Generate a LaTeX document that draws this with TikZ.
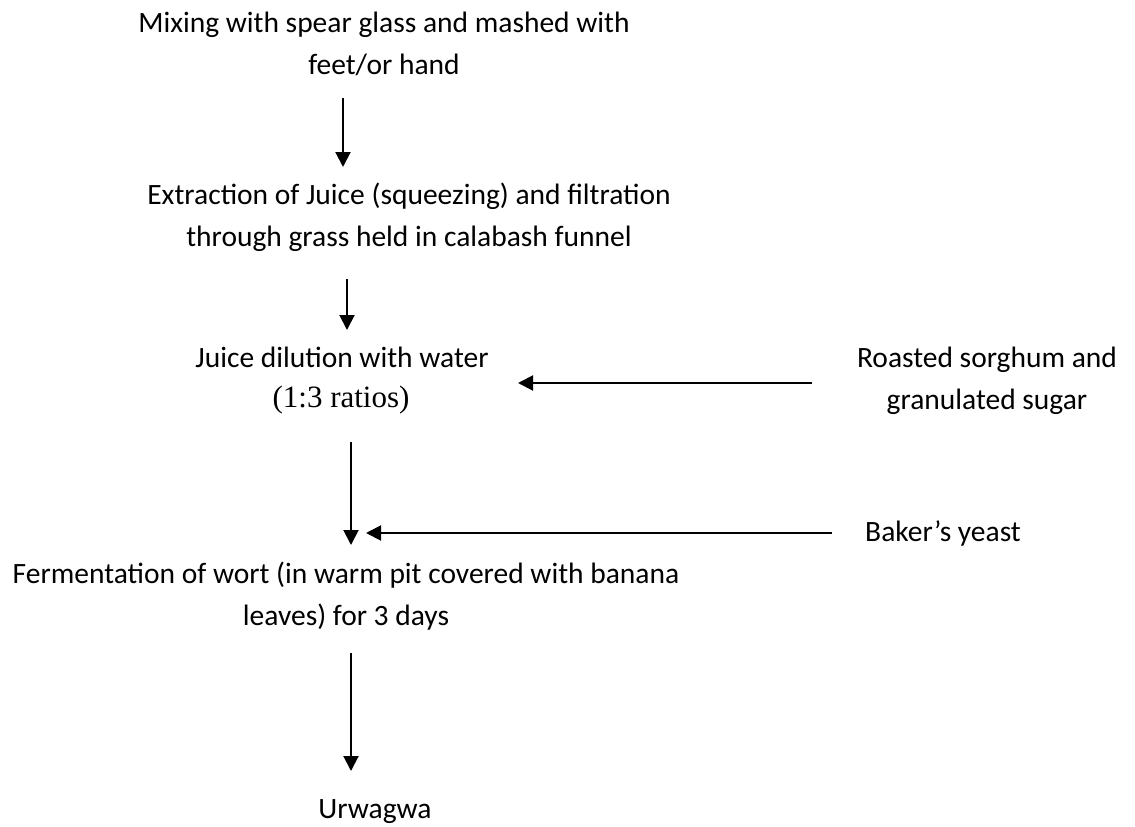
\documentclass[tikz,border=0pt]{standalone}
\usepackage{fontspec}
\setmainfont{Carlito}
\newfontfamily\timesfont{Liberation Serif}
\usetikzlibrary{arrows.meta}
\begin{document}
\begin{tikzpicture}[x=1pt,y=-1pt,
  lbl/.style={inner sep=0pt, align=center, font=\fontsize{29.5}{42}\selectfont},
  arr/.style={-{Triangle[length=15pt,width=15pt]}, line width=2pt}]
\useasboundingbox (0,0) rectangle (1135,827);
\node[lbl] (mix) at (384,44) {Mixing with spear glass and mashed with\\feet/or hand};
\coordinate (a1s) at (343,98);
\coordinate (a1e) at (343,167);
\node[lbl] (ext) at (409,217) {Extraction of Juice (squeezing) and filtration\\through grass held in calabash funnel};
\coordinate (a2s) at (347,279);
\coordinate (a2e) at (347,330);
\node[lbl] (dil) at (342,357) {Juice dilution with water};
\node[lbl, font=\timesfont\fontsize{31}{36}\selectfont] (rat) at (341,400) {(1:3 ratios)};
\node[lbl] (ros) at (987,381) {Roasted sorghum and\\granulated sugar};
\coordinate (h1s) at (812,383);
\coordinate (h1e) at (518,383);
\coordinate (a3s) at (351,442);
\coordinate (a3e) at (351,545);
\node[lbl] (yst) at (943,533) {Baker’s yeast};
\coordinate (h2s) at (832,533);
\coordinate (h2e) at (366,533);
\node[lbl] (fer) at (346,596) {Fermentation of wort (in warm pit covered with banana\\leaves) for 3 days};
\coordinate (a4s) at (351,653);
\coordinate (a4e) at (351,771);
\node[lbl] (urw) at (375,812) {Urwagwa};
\draw[arr] (a1s) -- (a1e);
\draw[arr] (a2s) -- (a2e);
\draw[arr] (h1s) -- (h1e);
\draw[arr] (a3s) -- (a3e);
\draw[arr] (h2s) -- (h2e);
\draw[arr] (a4s) -- (a4e);
\end{tikzpicture}
\end{document}
